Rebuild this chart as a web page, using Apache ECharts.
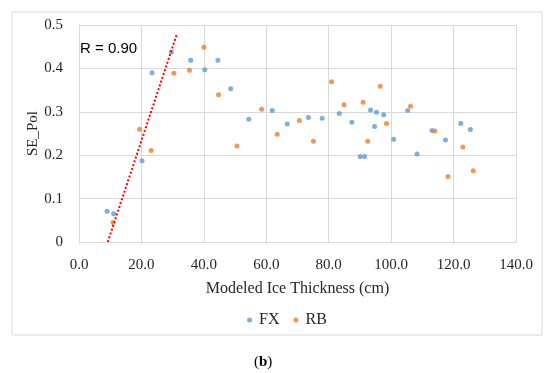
<!DOCTYPE html>
<html>
<head>
<meta charset="utf-8">
<script src="https://cdn.jsdelivr.net/npm/echarts@6/dist/echarts.min.js"></script>
<style>
html,body{margin:0;padding:0;background:#fff;}
#chart{width:550px;height:373px;}
</style>
</head>
<body>
<div id="chart"></div>
<script>
const fxX = [9.0, 11.1, 20.2, 23.4, 29.6, 35.8, 40.3, 44.5, 48.6, 54.4, 61.9, 66.7, 73.5, 77.9, 83.4, 87.4, 90.1, 91.5, 93.4, 94.7, 95.3, 97.6, 100.8, 105.3, 108.3, 113.1, 117.4, 122.3, 125.4];
const fxY = [0.071, 0.065, 0.187, 0.390, 0.438, 0.419, 0.397, 0.419, 0.353, 0.283, 0.303, 0.272, 0.287, 0.285, 0.296, 0.276, 0.197, 0.197, 0.304, 0.266, 0.299, 0.293, 0.237, 0.303, 0.203, 0.257, 0.235, 0.273, 0.259];
const rbX = [10.9, 19.4, 23.1, 30.4, 35.4, 40.0, 44.7, 50.6, 58.5, 63.5, 70.6, 75.1, 80.9, 84.9, 91.0, 92.5, 96.5, 98.5, 106.2, 114.0, 118.2, 123.0, 126.3];
const rbY = [0.045, 0.260, 0.211, 0.389, 0.396, 0.449, 0.339, 0.221, 0.306, 0.248, 0.280, 0.232, 0.369, 0.316, 0.322, 0.232, 0.359, 0.273, 0.313, 0.256, 0.151, 0.219, 0.164];
const trendX = [9.2, 31.4];
const trendY = [0.0, 0.48];
const seriesNames = ['FX', 'RB'];
const rLabel = 'R = 0.90';
const xTitle = 'Modeled Ice Thickness (cm)';
const yTitle = 'SE_Pol';
const caption = 'b';

const zip = (xs, ys) => xs.map((x, i) => [x, ys[i]]);
const serif = '"Liberation Serif", "DejaVu Serif", serif';
const textCol = '#262626';
const gridCol = '#d9d9d9';

const chart = echarts.init(document.getElementById('chart'), null, {renderer: 'canvas'});
chart.setOption({
  animation: false,
  backgroundColor: '#fff',
  grid: {left: 79, top: 25, width: 437, height: 217, containLabel: false},
  xAxis: {
    type: 'value', min: 0, max: 140, interval: 20,
    name: xTitle, nameLocation: 'middle', nameGap: 39,
    nameTextStyle: {fontFamily: serif, fontSize: 16, color: textCol},
    axisLine: {show: true, lineStyle: {color: gridCol, width: 1}},
    axisTick: {show: false},
    axisLabel: {fontFamily: serif, fontSize: 15, color: textCol, margin: 16, formatter: v => v.toFixed(1)},
    splitLine: {show: true, lineStyle: {color: gridCol, width: 1}}
  },
  yAxis: {
    type: 'value', min: 0, max: 0.5, interval: 0.1,
    name: yTitle, nameLocation: 'middle', nameGap: 38, nameRotate: 90,
    nameMoveOverlap: false,
    nameTextStyle: {fontFamily: serif, fontSize: 15, color: textCol},
    axisLine: {show: true, lineStyle: {color: gridCol, width: 1}},
    axisTick: {show: false},
    axisLabel: {fontFamily: serif, fontSize: 15, color: textCol, margin: 16},
    splitLine: {show: true, lineStyle: {color: gridCol, width: 1}}
  },
  legend: {
    data: seriesNames,
    left: 242, top: 307,
    icon: 'circle', itemWidth: 5, itemHeight: 5, itemGap: 14,
    textStyle: {fontFamily: serif, fontSize: 16, color: textCol, padding: [0, 0, 0, 2]}
  },
  graphic: [
    {type: 'rect', shape: {x: 12, y: 12, width: 530, height: 323}, style: {fill: 'none', stroke: gridCol, lineWidth: 1}, silent: true, z: -1},
    {type: 'text', left: 80, top: 41, style: {text: rLabel, font: '15px "Liberation Sans", Arial, sans-serif', fill: '#000'}},
    {type: 'text', left: 254, top: 355, style: {rich: {p: {fontFamily: serif, fontSize: 15, fill: '#000'}, b: {fontFamily: serif, fontSize: 15, fontWeight: 'bold', fill: '#000'}}, text: '{p|(}{b|' + caption + '}{p|)}'}}
  ],
  series: [
    {name: 'FX', type: 'scatter', data: zip(fxX, fxY), symbolSize: 5, itemStyle: {color: '#5B9BD5'}, z: 3},
    {name: 'RB', type: 'scatter', data: zip(rbX, rbY), symbolSize: 5, itemStyle: {color: '#ED7D31'}, z: 3},
    {name: 'trend', type: 'line', data: zip(trendX, trendY), symbol: 'none', lineStyle: {color: '#FF0000', width: 2, type: [2, 2]}, z: 4}
  ]
});
</script>
</body>
</html>
